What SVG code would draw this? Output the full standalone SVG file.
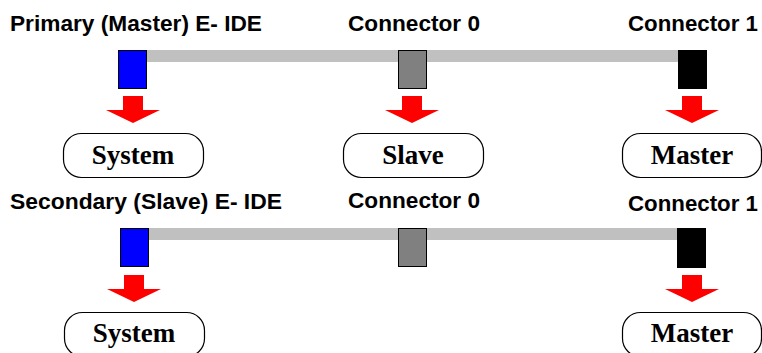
<svg xmlns="http://www.w3.org/2000/svg" width="762" height="353" viewBox="0 0 762 353">
<style>
.title{font-family:"Liberation Sans",Arial,sans-serif;font-weight:bold;font-size:22px;fill:#000}
.lbl{font-family:"Liberation Serif","Times New Roman",serif;font-weight:bold;font-size:27px;fill:#000;text-anchor:middle}
.box{fill:#fff;stroke:#000;stroke-width:1.2}
.bus{fill:#c0c0c0}
.conn{stroke:#000;stroke-width:1}
.arrow{fill:#ff0000}
</style>
<defs>
<polygon id="arr" points="-10,0 10,0 10,14 27,14 0,27 -27,14 -10,14"/>
</defs>
<g id="connectors">
<rect class="bus" x="147" y="50" width="532" height="12"/>
<rect class="bus" x="148" y="228" width="530" height="12"/>
<use href="#arr" class="arrow" x="133" y="96"/>
<use href="#arr" class="arrow" x="412" y="96"/>
<use href="#arr" class="arrow" x="692" y="96"/>
<use href="#arr" class="arrow" x="134" y="275"/>
<use href="#arr" class="arrow" x="692" y="275"/>
</g>
<g id="title-primary"><text class="title" x="10" y="31" textLength="252" lengthAdjust="spacingAndGlyphs">Primary (Master) E- IDE</text></g>
<g id="title-c0-top"><text class="title" x="348" y="31" textLength="132" lengthAdjust="spacingAndGlyphs">Connector 0</text></g>
<g id="title-c1-top"><text class="title" x="628" y="31" textLength="130" lengthAdjust="spacingAndGlyphs">Connector 1</text></g>
<g id="title-secondary"><text class="title" x="10" y="209" textLength="272" lengthAdjust="spacingAndGlyphs">Secondary (Slave) E- IDE</text></g>
<g id="title-c0-bot"><text class="title" x="348" y="208" textLength="132" lengthAdjust="spacingAndGlyphs">Connector 0</text></g>
<g id="title-c1-bot"><text class="title" x="628" y="211" textLength="130" lengthAdjust="spacingAndGlyphs">Connector 1</text></g>
<g id="port-primary"><rect class="conn" x="118.5" y="50.5" width="28" height="38" fill="#0000ff"/></g>
<g id="port-c0-top"><rect class="conn" x="398.5" y="50.5" width="28" height="38" fill="#808080"/></g>
<g id="port-c1-top"><rect class="conn" x="678.5" y="50.5" width="28" height="38" fill="#000000"/></g>
<g id="port-secondary"><rect class="conn" x="120.5" y="228.5" width="28" height="38" fill="#0000ff"/></g>
<g id="port-c0-bot"><rect class="conn" x="398.5" y="228.5" width="28" height="38" fill="#808080"/></g>
<g id="port-c1-bot"><rect class="conn" x="677.5" y="228.5" width="28" height="39" fill="#000000"/></g>
<g id="node-system-top"><rect class="box" x="63.5" y="133.5" width="140" height="44" rx="18"/><text class="lbl" x="133" y="164">System</text></g>
<g id="node-slave-top"><rect class="box" x="343.5" y="133.5" width="140" height="44" rx="18"/><text class="lbl" x="413" y="164">Slave</text></g>
<g id="node-master-top"><rect class="box" x="622.5" y="133.5" width="139" height="44" rx="18"/><text class="lbl" x="692" y="164">Master</text></g>
<g id="node-system-bot"><rect class="box" x="64.5" y="312.5" width="140" height="44" rx="18"/><text class="lbl" x="134" y="342">System</text></g>
<g id="node-master-bot"><rect class="box" x="622.5" y="312.5" width="139" height="44" rx="18"/><text class="lbl" x="692" y="342">Master</text></g>
</svg>
